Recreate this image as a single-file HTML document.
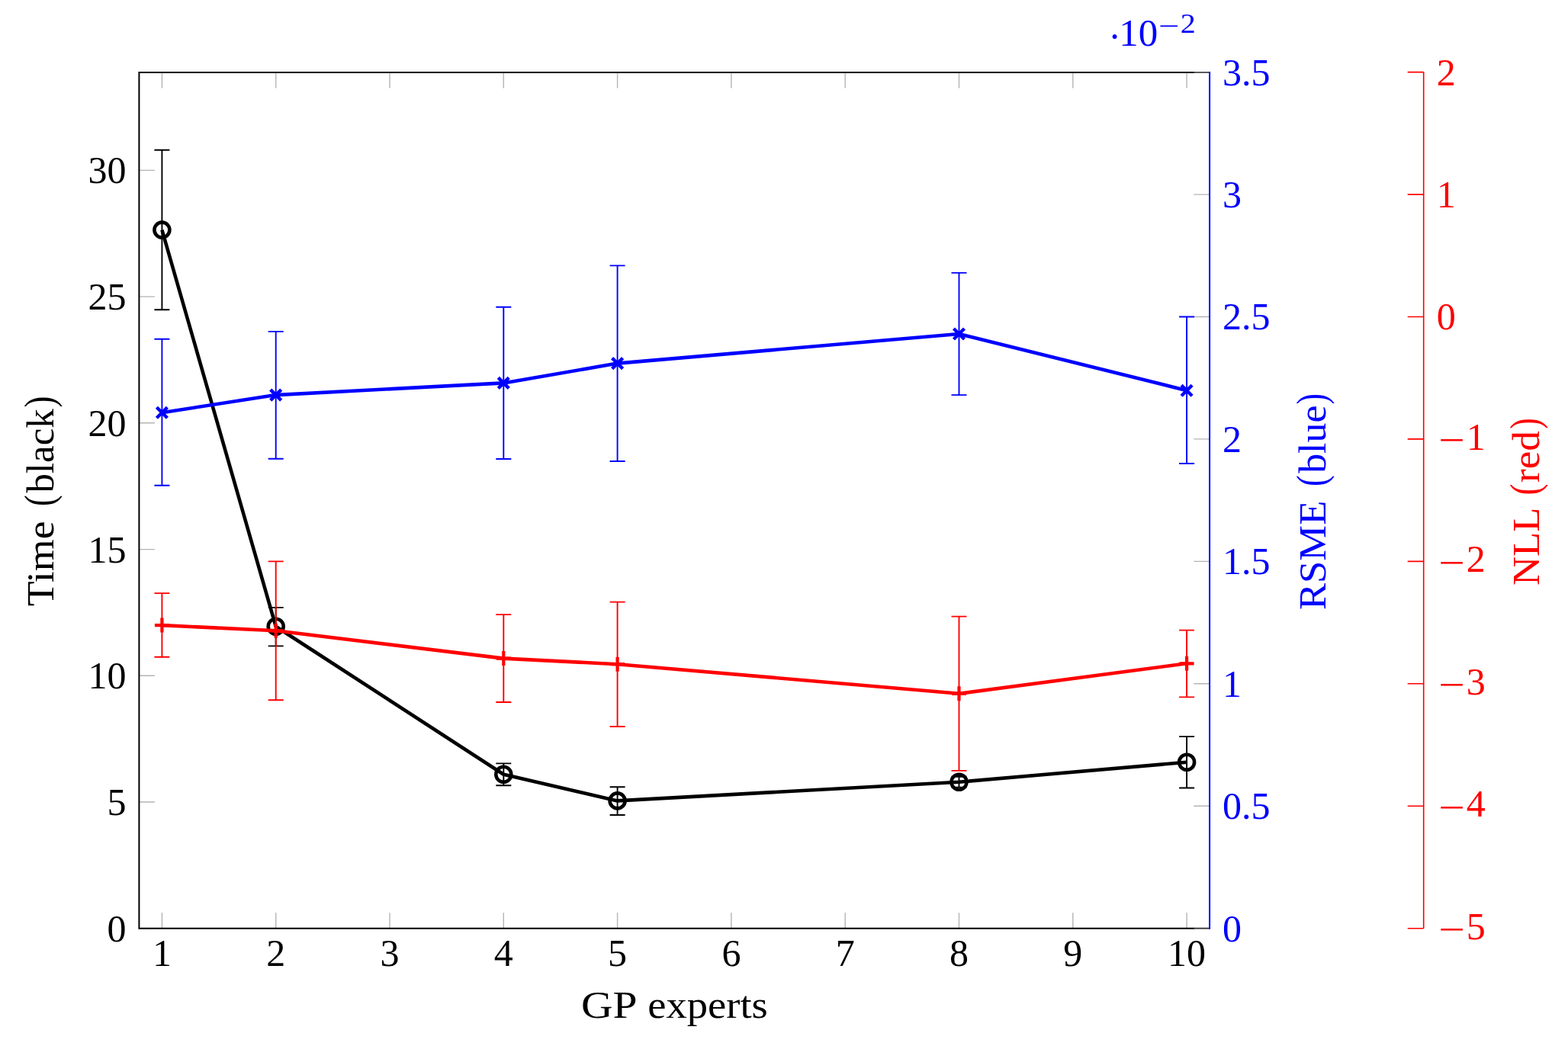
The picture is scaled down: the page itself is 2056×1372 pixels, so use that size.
<!DOCTYPE html><html><head><meta charset="utf-8"><title>GP experts plot</title>
<style>html,body{margin:0;padding:0;background:#fff;overflow:hidden}svg{display:block}text{font-family:'Liberation Serif', 'DejaVu Serif', serif}</style></head><body>
<svg width="2056" height="1372" viewBox="0 0 2056 1372">
<rect width="2056" height="1372" fill="#fff"/>
<path d="M212.4 1217.7V1197.2M212.4 95.0V115.5M361.7 1217.7V1197.2M361.7 95.0V115.5M511.0 1217.7V1197.2M511.0 95.0V115.5M660.3 1217.7V1197.2M660.3 95.0V115.5M809.6 1217.7V1197.2M809.6 95.0V115.5M958.9 1217.7V1197.2M958.9 95.0V115.5M1108.2 1217.7V1197.2M1108.2 95.0V115.5M1257.5 1217.7V1197.2M1257.5 95.0V115.5M1406.8 1217.7V1197.2M1406.8 95.0V115.5M1556.1 1217.7V1197.2M1556.1 95.0V115.5M182.4 1217.7H202.9M182.4 1052.0H202.9M182.4 886.3H202.9M182.4 720.6H202.9M182.4 554.8H202.9M182.4 389.1H202.9M182.4 223.4H202.9M1586.1 1217.7H1565.3M1586.1 1057.3H1565.3M1586.1 896.8H1565.3M1586.1 736.4H1565.3M1586.1 575.9H1565.3M1586.1 415.5H1565.3M1586.1 255.1H1565.3M1586.1 94.6H1565.3" stroke="#b4b4b4" stroke-width="1.4" fill="none"/>
<path d="M182.4 95.0V1217.7H1565.1M182.4 95.0H1565.1" stroke="#000" stroke-width="2" fill="none" stroke-linecap="square"/>
<path d="M1565.1 95.0H1586.1M1565.1 1217.7H1586.1" stroke="#333" stroke-width="1.7" fill="none"/>
<path d="M1586.1 95.0V1217.7" stroke="#00f" stroke-width="2" fill="none" stroke-linecap="square"/>
<path d="M1866.7 94.6V1217.7M1866.7 1217.7H1845.7M1866.7 1057.3H1845.7M1866.7 896.8H1845.7M1866.7 736.4H1845.7M1866.7 575.9H1845.7M1866.7 415.5H1845.7M1866.7 255.1H1845.7M1866.7 94.6H1845.7" stroke="#f00" stroke-width="1.6" fill="none"/>
<path d="M212.4 196.8V406.3M202.4 196.8H222.4M202.4 406.3H222.4M361.7 796.9V847.4M351.7 796.9H371.7M351.7 847.4H371.7M660.3 1001.4V1030.3M650.3 1001.4H670.3M650.3 1030.3H670.3M809.6 1032.2V1069.0M799.6 1032.2H819.6M799.6 1069.0H819.6M1257.5 1018.8V1032.6M1247.5 1018.8H1267.5M1247.5 1032.6H1267.5M1556.1 966.1V1033.5M1546.1 966.1H1566.1M1546.1 1033.5H1566.1" stroke="#000" stroke-width="1.9" fill="none"/>
<polyline points="212.4,301.6 361.7,821.8 660.3,1015.7 809.6,1050.4 1257.5,1025.7 1556.1,999.7" stroke="#000" stroke-width="4.6" fill="none" stroke-linejoin="round"/>
<g fill="none" stroke="#000" stroke-width="4.6"><circle cx="212.4" cy="301.6" r="10"/><circle cx="361.7" cy="821.8" r="10"/><circle cx="660.3" cy="1015.7" r="10"/><circle cx="809.6" cy="1050.4" r="10"/><circle cx="1257.5" cy="1025.7" r="10"/><circle cx="1556.1" cy="999.7" r="10"/></g>
<path d="M212.4 444.8V636.7M202.4 444.8H222.4M202.4 636.7H222.4M361.7 434.9V601.8M351.7 434.9H371.7M351.7 601.8H371.7M660.3 402.8V602.0M650.3 402.8H670.3M650.3 602.0H670.3M809.6 348.4V605.0M799.6 348.4H819.6M799.6 605.0H819.6M1257.5 357.9V518.1M1247.5 357.9H1267.5M1247.5 518.1H1267.5M1556.1 415.5V608.0M1546.1 415.5H1566.1M1546.1 608.0H1566.1" stroke="#00f" stroke-width="1.9" fill="none"/>
<polyline points="212.4,541.2 361.7,518.1 660.3,502.4 809.6,476.6 1257.5,438.0 1556.1,512.2" stroke="#00f" stroke-width="4.6" fill="none" stroke-linejoin="round"/>
<path d="M205.4 534.2L219.4 548.2M205.4 548.2L219.4 534.2M354.7 511.1L368.7 525.1M354.7 525.1L368.7 511.1M653.3 495.4L667.3 509.4M653.3 509.4L667.3 495.4M802.6 469.6L816.6 483.6M802.6 483.6L816.6 469.6M1250.5 431.0L1264.5 445.0M1250.5 445.0L1264.5 431.0M1549.1 505.2L1563.1 519.2M1549.1 519.2L1563.1 505.2" stroke="#00f" stroke-width="4.4" fill="none"/>
<path d="M212.4 778.1V861.7M202.4 778.1H222.4M202.4 861.7H222.4M361.7 736.4V918.3M351.7 736.4H371.7M351.7 918.3H371.7M660.3 806.1V921.0M650.3 806.1H670.3M650.3 921.0H670.3M809.6 789.6V953.0M799.6 789.6H819.6M799.6 953.0H819.6M1257.5 808.6V1010.9M1247.5 808.6H1267.5M1247.5 1010.9H1267.5M1556.1 826.6V914.4M1546.1 826.6H1566.1M1546.1 914.4H1566.1" stroke="#f00" stroke-width="1.9" fill="none"/>
<polyline points="212.4,820.1 361.7,827.3 660.3,863.6 809.6,871.2 1257.5,909.8 1556.1,870.3" stroke="#f00" stroke-width="4.6" fill="none" stroke-linejoin="round"/>
<path d="M202.9 820.1H221.9M212.4 810.6V829.6M352.2 827.3H371.2M361.7 817.8V836.8M650.8 863.6H669.8M660.3 854.1V873.1M800.1 871.2H819.1M809.6 861.7V880.7M1248.0 909.8H1267.0M1257.5 900.3V919.3M1546.6 870.3H1565.6M1556.1 860.8V879.8" stroke="#f00" stroke-width="4.2" fill="none"/>
<g font-size="50" fill="#000" text-anchor="middle">
<text x="212.4" y="1267.3">1</text>
<text x="361.7" y="1267.3">2</text>
<text x="511.0" y="1267.3">3</text>
<text x="660.3" y="1267.3">4</text>
<text x="809.6" y="1267.3">5</text>
<text x="958.9" y="1267.3">6</text>
<text x="1108.2" y="1267.3">7</text>
<text x="1257.5" y="1267.3">8</text>
<text x="1406.8" y="1267.3">9</text>
<text x="1556.1" y="1267.3">10</text>
</g>
<g font-size="50" fill="#000" text-anchor="end">
<text x="165.5" y="1234.6">0</text>
<text x="165.5" y="1068.9">5</text>
<text x="165.5" y="903.2">10</text>
<text x="165.5" y="737.5">15</text>
<text x="165.5" y="571.7">20</text>
<text x="165.5" y="406.0">25</text>
<text x="165.5" y="240.3">30</text>
</g>
<g font-size="50" fill="#00f">
<text x="1603.0" y="1234.6">0</text>
<text x="1603.0" y="1074.2">0.5</text>
<text x="1603.0" y="913.7">1</text>
<text x="1603.0" y="753.3">1.5</text>
<text x="1603.0" y="592.8">2</text>
<text x="1603.0" y="432.4">2.5</text>
<text x="1603.0" y="272.0">3</text>
<text x="1603.0" y="111.5">3.5</text>
</g>
<g font-size="50" fill="#f00">
<text y="1231.7"><tspan x="1886.0" y="1236.1" textLength="34.7" lengthAdjust="spacingAndGlyphs">−</tspan><tspan x="1922.8" y="1231.7">5</tspan></text>
<text y="1071.3"><tspan x="1886.0" y="1075.7" textLength="34.7" lengthAdjust="spacingAndGlyphs">−</tspan><tspan x="1922.8" y="1071.3">4</tspan></text>
<text y="910.8"><tspan x="1886.0" y="915.2" textLength="34.7" lengthAdjust="spacingAndGlyphs">−</tspan><tspan x="1922.8" y="910.8">3</tspan></text>
<text y="750.4"><tspan x="1886.0" y="754.8" textLength="34.7" lengthAdjust="spacingAndGlyphs">−</tspan><tspan x="1922.8" y="750.4">2</tspan></text>
<text y="589.9"><tspan x="1886.0" y="594.3" textLength="34.7" lengthAdjust="spacingAndGlyphs">−</tspan><tspan x="1922.8" y="589.9">1</tspan></text>
<text x="1883.8" y="432.4">0</text>
<text x="1883.8" y="272.0">1</text>
<text x="1883.8" y="111.5">2</text>
</g>
<text fill="#00f" font-size="50"><tspan x="1453.2" y="64.7">·</tspan><tspan x="1467.2" y="60.1" font-size="51">10</tspan><tspan x="1519.06" y="45.5" font-size="35" textLength="27.4" lengthAdjust="spacingAndGlyphs">−</tspan><tspan x="1547.8" y="42.7" font-size="35.5" textLength="20.0" lengthAdjust="spacingAndGlyphs">2</tspan></text>
<text y="1334.8" font-size="50"><tspan x="761.9" textLength="71.5" lengthAdjust="spacingAndGlyphs">GP</tspan> <tspan x="849.2" textLength="157.6" lengthAdjust="spacingAndGlyphs">experts</tspan></text>
<text transform="translate(70.0 0) rotate(-90)" font-size="50"><tspan x="-795.2" textLength="111.8" lengthAdjust="spacingAndGlyphs">Time</tspan> <tspan x="-663.9" textLength="14.6" lengthAdjust="spacingAndGlyphs" font-size="54.4">(</tspan><tspan x="-646.6" textLength="110.3" lengthAdjust="spacingAndGlyphs">black</tspan><tspan x="-534.5" textLength="14.9" lengthAdjust="spacingAndGlyphs" font-size="54.4">)</tspan></text>
<text transform="translate(1738.0 0) rotate(-90)" font-size="50" fill="#00f"><tspan x="-800.1" textLength="143.5" lengthAdjust="spacingAndGlyphs">RSME</tspan> <tspan x="-638.1" textLength="14.6" lengthAdjust="spacingAndGlyphs" font-size="54.4">(</tspan><tspan x="-620.8" textLength="89.2" lengthAdjust="spacingAndGlyphs">blue</tspan><tspan x="-530.4" textLength="14.5" lengthAdjust="spacingAndGlyphs" font-size="54.4">)</tspan></text>
<text transform="translate(2018.0 0) rotate(-90)" font-size="50" fill="#f00"><tspan x="-768.1" textLength="100.6" lengthAdjust="spacingAndGlyphs">NLL</tspan> <tspan x="-649.6" textLength="14.9" lengthAdjust="spacingAndGlyphs" font-size="54.4">(</tspan><tspan x="-633.0" textLength="67.8" lengthAdjust="spacingAndGlyphs">red</tspan><tspan x="-562.8" textLength="14.4" lengthAdjust="spacingAndGlyphs" font-size="54.4">)</tspan></text>
</svg></body></html>
